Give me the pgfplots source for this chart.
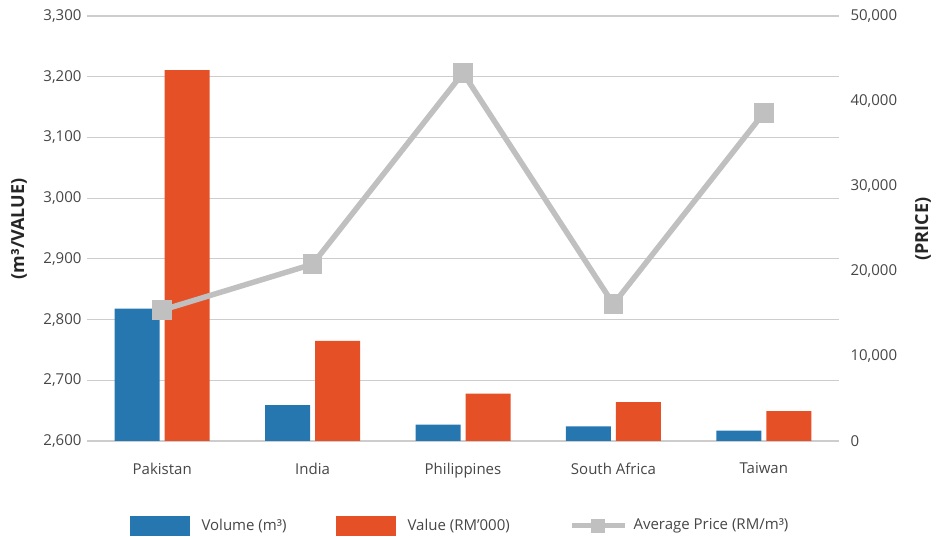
\documentclass[border=0pt]{standalone}
\usepackage{pgfplots}
\pgfplotsset{compat=1.18}
\usepackage{fontspec}
\setmainfont{Open Sans}
\definecolor{volc}{RGB}{38,118,176}
\definecolor{valc}{RGB}{230,80,38}
\definecolor{pricec}{RGB}{192,192,192}
\definecolor{gridc}{RGB}{205,205,205}
\definecolor{txt}{RGB}{70,70,70}
\begin{document}
\begin{tikzpicture}
\useasboundingbox (0,0) rectangle (941pt,537pt);
\pgfplotsset{
  common/.style={
    scale only axis, width=752pt, height=425pt,
    at={(87pt,96pt)}, anchor=south west,
    xmin=-0.5, xmax=4.5,
    axis line style={draw=none},
    tick style={draw=none},
    ticklabel style={font=\fontsize{15}{18}\selectfont, text=txt},
    /pgf/number format/assume math mode=true,
    /pgf/number format/1000 sep={,},
    scaled y ticks=false,
  }
}
\begin{axis}[common,
  ymin=2600, ymax=3300, ytick={2600,2700,...,3300},
  ymajorgrids, grid style={gridc, line width=1.2pt},
  xtick={0,1,2,3,4},
  xticklabels={Pakistan,India,Philippines,South Africa,Taiwan},
  xticklabel style={yshift=-14pt},
  yticklabel style={xshift=-2pt},
  ybar=5pt, bar width=45pt,
]
\addplot[fill=volc, draw=none] coordinates {(0,2818) (1,2659) (2,2627) (3,2624) (4,2617)};
\addplot[fill=valc, draw=none] coordinates {(0,3211) (1,2765) (2,2678) (3,2664) (4,2649)};
\end{axis}
\begin{axis}[common,
  ymin=0, ymax=50000, ytick={0,10000,...,50000},
  axis y line*=right, axis x line=none,
  xtick=\empty,
  yticklabel style={xshift=8pt, anchor=west},
]
\addplot[pricec, line width=5.5pt, mark=square*, mark size=7pt, mark options={solid}]
  coordinates {(0,15400) (1,20800) (2,43300) (3,16100) (4,38600)};
\end{axis}
\node[rotate=90, font=\fontsize{18}{21}\selectfont\bfseries, text=black!85] at (19pt,308pt) {(m³/VALUE)};
\node[rotate=90, font=\fontsize{18}{21}\selectfont\bfseries, text=black!85] at (923pt,308pt) {(PRICE)};
% legend
\begin{scope}[font=\fontsize{15}{18}\selectfont, text=txt]
\fill[volc] (130pt,1pt) rectangle (190pt,21pt);
\node[anchor=west] at (198pt,11pt) {Volume (m³)};
\fill[valc] (336pt,1pt) rectangle (396pt,21pt);
\node[anchor=west] at (404pt,11pt) {Value (RM’000)};
\draw[pricec, line width=5pt] (572pt,11pt) -- (625pt,11pt);
\fill[pricec] (591pt,4pt) rectangle (605pt,18pt);
\node[anchor=west] at (630pt,11pt) {Average Price (RM/m³)};
\end{scope}
\end{tikzpicture}
\end{document}
